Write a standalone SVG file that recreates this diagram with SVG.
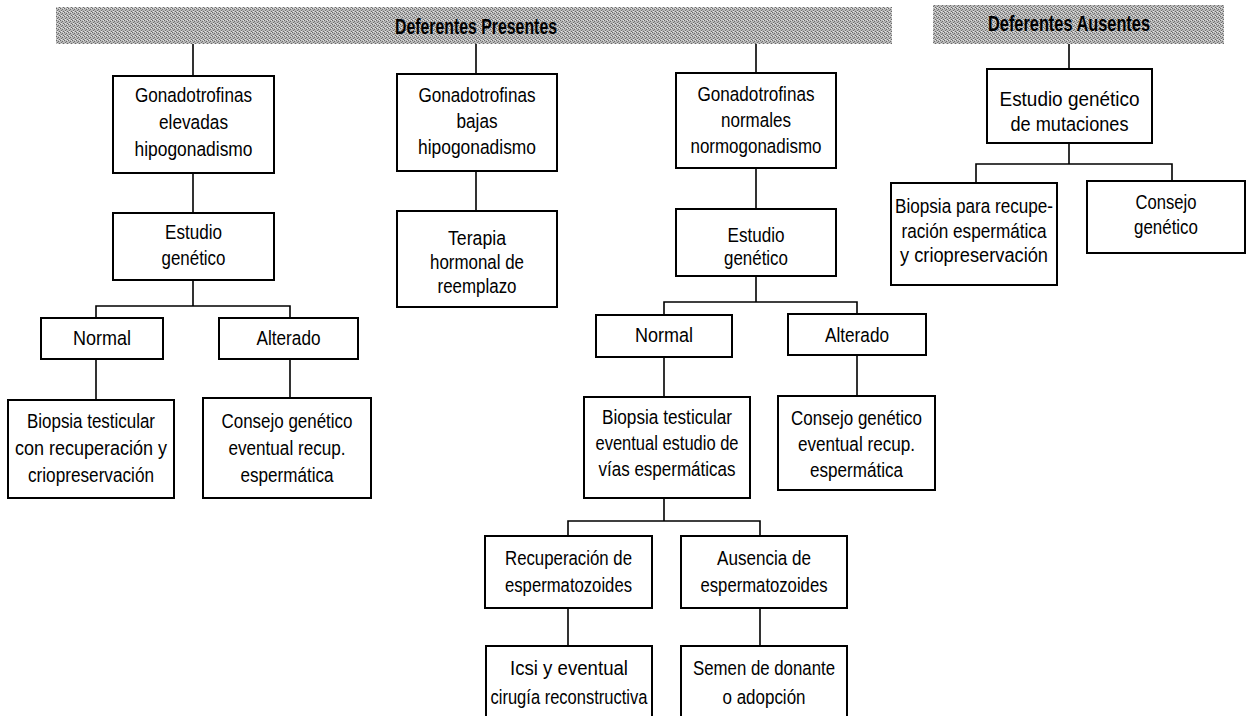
<svg xmlns="http://www.w3.org/2000/svg" width="1250" height="716" viewBox="0 0 1250 716">
<defs>
<pattern id="dither" width="4" height="4" patternUnits="userSpaceOnUse">
<rect width="4" height="4" fill="#b8b8b8"/>
<rect x="0" y="0" width="1" height="1" fill="#6a6a6a"/>
<rect x="2" y="1" width="1" height="1" fill="#6e6e6e"/>
<rect x="1" y="2" width="1" height="1" fill="#707070"/>
<rect x="3" y="3" width="1" height="1" fill="#686868"/>
<rect x="3" y="0" width="1" height="1" fill="#e2e2e2"/>
<rect x="1" y="3" width="1" height="1" fill="#e6e6e6"/>
</pattern>
</defs>
<style>
.bar{fill:url(#dither)}
.hdr{font-family:"Liberation Sans",Arial,sans-serif;font-weight:bold;font-size:22px;fill:#000;text-anchor:middle}
.box{fill:#fff;stroke:#000;stroke-width:2}
.t{font-family:"Liberation Sans",Arial,sans-serif;font-size:20.5px;fill:#000;text-anchor:middle}
.c{fill:none;stroke:#000;stroke-width:1.6}
</style>
<rect width="1250" height="716" fill="#fff"/>

<g id="hdr-presentes">
<rect class="bar" x="56" y="7" width="836" height="37"/>
<text class="hdr" x="476" y="34" textLength="162" lengthAdjust="spacingAndGlyphs">Deferentes Presentes</text>
</g>
<g id="hdr-ausentes">
<rect class="bar" x="933" y="5" width="291" height="39"/>
<text class="hdr" x="1069" y="31" textLength="162" lengthAdjust="spacingAndGlyphs">Deferentes Ausentes</text>
</g>

<g id="connectors">
<path class="c" d="M193 44V76 M193 173V213 M193 280V306 M96 318V306H290V318 M96 359V400 M290 359V398"/>
<path class="c" d="M476 44V74 M476 171V211"/>
<path class="c" d="M756 44V73 M756 168V209 M756 276V302 M664 315V302H857V315 M664 357V397 M857 356V396"/>
<path class="c" d="M664 498V521 M568 536V521H760V536 M568 608V646 M760 608V646"/>
<path class="c" d="M1069 44V69 M1069 143V164 M976 183V164H1172V181"/>
</g>

<g id="n-gon-elevadas">
<rect class="box" x="113" y="76" width="161" height="97"/>
<text class="t" x="193.5" y="102" textLength="117" lengthAdjust="spacingAndGlyphs">Gonadotrofinas</text>
<text class="t" x="193.5" y="129" textLength="69" lengthAdjust="spacingAndGlyphs">elevadas</text>
<text class="t" x="193.5" y="156" textLength="118" lengthAdjust="spacingAndGlyphs">hipogonadismo</text>
</g>
<g id="n-estudio-1">
<rect class="box" x="113" y="213" width="161" height="67"/>
<text class="t" x="193.5" y="239" textLength="57" lengthAdjust="spacingAndGlyphs">Estudio</text>
<text class="t" x="193.5" y="265" textLength="64" lengthAdjust="spacingAndGlyphs">genético</text>
</g>
<g id="n-normal-1">
<rect class="box" x="41" y="318" width="122" height="41"/>
<text class="t" x="102" y="345" textLength="58" lengthAdjust="spacingAndGlyphs">Normal</text>
</g>
<g id="n-alterado-1">
<rect class="box" x="219" y="318" width="139" height="41"/>
<text class="t" x="288.5" y="345" textLength="64" lengthAdjust="spacingAndGlyphs">Alterado</text>
</g>
<g id="n-biopsia-1">
<rect class="box" x="8" y="400" width="166" height="98"/>
<text class="t" x="91" y="428" textLength="128" lengthAdjust="spacingAndGlyphs">Biopsia testicular</text>
<text class="t" x="91" y="455" textLength="152" lengthAdjust="spacingAndGlyphs">con recuperación y</text>
<text class="t" x="91" y="482" textLength="126" lengthAdjust="spacingAndGlyphs">criopreservación</text>
</g>
<g id="n-consejo-1">
<rect class="box" x="203" y="398" width="168" height="100"/>
<text class="t" x="287" y="428" textLength="131" lengthAdjust="spacingAndGlyphs">Consejo genético</text>
<text class="t" x="287" y="455" textLength="117" lengthAdjust="spacingAndGlyphs">eventual recup.</text>
<text class="t" x="287" y="482" textLength="93" lengthAdjust="spacingAndGlyphs">espermática</text>
</g>

<g id="n-gon-bajas">
<rect class="box" x="397" y="74" width="160" height="97"/>
<text class="t" x="477" y="102" textLength="117" lengthAdjust="spacingAndGlyphs">Gonadotrofinas</text>
<text class="t" x="477" y="128" textLength="41" lengthAdjust="spacingAndGlyphs">bajas</text>
<text class="t" x="477" y="154" textLength="118" lengthAdjust="spacingAndGlyphs">hipogonadismo</text>
</g>
<g id="n-terapia">
<rect class="box" x="397" y="211" width="160" height="96"/>
<text class="t" x="477" y="245" textLength="58" lengthAdjust="spacingAndGlyphs">Terapia</text>
<text class="t" x="477" y="269" textLength="94" lengthAdjust="spacingAndGlyphs">hormonal de</text>
<text class="t" x="477" y="293" textLength="79" lengthAdjust="spacingAndGlyphs">reemplazo</text>
</g>

<g id="n-gon-normales">
<rect class="box" x="676" y="73" width="160" height="95"/>
<text class="t" x="756" y="101" textLength="117" lengthAdjust="spacingAndGlyphs">Gonadotrofinas</text>
<text class="t" x="756" y="127" textLength="70" lengthAdjust="spacingAndGlyphs">normales</text>
<text class="t" x="756" y="153" textLength="131" lengthAdjust="spacingAndGlyphs">normogonadismo</text>
</g>
<g id="n-estudio-3">
<rect class="box" x="676" y="209" width="160" height="67"/>
<text class="t" x="756" y="242" textLength="57" lengthAdjust="spacingAndGlyphs">Estudio</text>
<text class="t" x="756" y="265" textLength="64" lengthAdjust="spacingAndGlyphs">genético</text>
</g>
<g id="n-normal-3">
<rect class="box" x="596" y="315" width="136" height="42"/>
<text class="t" x="664" y="342" textLength="58" lengthAdjust="spacingAndGlyphs">Normal</text>
</g>
<g id="n-alterado-3">
<rect class="box" x="788" y="314" width="138" height="41"/>
<text class="t" x="857" y="342" textLength="64" lengthAdjust="spacingAndGlyphs">Alterado</text>
</g>
<g id="n-biopsia-3">
<rect class="box" x="584" y="397" width="166" height="101"/>
<text class="t" x="667" y="424" textLength="130" lengthAdjust="spacingAndGlyphs">Biopsia testicular</text>
<text class="t" x="667" y="450" textLength="143" lengthAdjust="spacingAndGlyphs">eventual estudio de</text>
<text class="t" x="667" y="476" textLength="137" lengthAdjust="spacingAndGlyphs">vías espermáticas</text>
</g>
<g id="n-consejo-3">
<rect class="box" x="778" y="396" width="157" height="94"/>
<text class="t" x="856.5" y="425" textLength="131" lengthAdjust="spacingAndGlyphs">Consejo genético</text>
<text class="t" x="856.5" y="451" textLength="117" lengthAdjust="spacingAndGlyphs">eventual recup.</text>
<text class="t" x="856.5" y="477" textLength="93" lengthAdjust="spacingAndGlyphs">espermática</text>
</g>
<g id="n-recuperacion">
<rect class="box" x="485" y="536" width="167" height="72"/>
<text class="t" x="568.5" y="565" textLength="127" lengthAdjust="spacingAndGlyphs">Recuperación de</text>
<text class="t" x="568.5" y="592" textLength="127" lengthAdjust="spacingAndGlyphs">espermatozoides</text>
</g>
<g id="n-ausencia">
<rect class="box" x="681" y="536" width="166" height="72"/>
<text class="t" x="764" y="565" textLength="94" lengthAdjust="spacingAndGlyphs">Ausencia de</text>
<text class="t" x="764" y="592" textLength="127" lengthAdjust="spacingAndGlyphs">espermatozoides</text>
</g>
<g id="n-icsi">
<rect class="box" x="486" y="646" width="166" height="90"/>
<text class="t" x="569" y="675" textLength="118" lengthAdjust="spacingAndGlyphs">Icsi y eventual</text>
<text class="t" x="569" y="704" textLength="157" lengthAdjust="spacingAndGlyphs">cirugía reconstructiva</text>
</g>
<g id="n-semen">
<rect class="box" x="681" y="646" width="166" height="90"/>
<text class="t" x="764" y="675" textLength="142" lengthAdjust="spacingAndGlyphs">Semen de donante</text>
<text class="t" x="764" y="704" textLength="83" lengthAdjust="spacingAndGlyphs">o adopción</text>
</g>

<g id="n-estudio-mut">
<rect class="box" x="987" y="69" width="165" height="74"/>
<text class="t" x="1069.5" y="106" textLength="140" lengthAdjust="spacingAndGlyphs">Estudio genético</text>
<text class="t" x="1069.5" y="131" textLength="118" lengthAdjust="spacingAndGlyphs">de mutaciones</text>
</g>
<g id="n-biopsia-rec">
<rect class="box" x="891" y="183" width="166" height="102"/>
<text class="t" x="974" y="213" textLength="158" lengthAdjust="spacingAndGlyphs">Biopsia para recupe-</text>
<text class="t" x="974" y="238" textLength="145" lengthAdjust="spacingAndGlyphs">ración espermática</text>
<text class="t" x="974" y="262" textLength="148" lengthAdjust="spacingAndGlyphs">y criopreservación</text>
</g>
<g id="n-consejo-gen">
<rect class="box" x="1087" y="181" width="158" height="72"/>
<text class="t" x="1166" y="209" textLength="61" lengthAdjust="spacingAndGlyphs">Consejo</text>
<text class="t" x="1166" y="234" textLength="64" lengthAdjust="spacingAndGlyphs">genético</text>
</g>
</svg>
